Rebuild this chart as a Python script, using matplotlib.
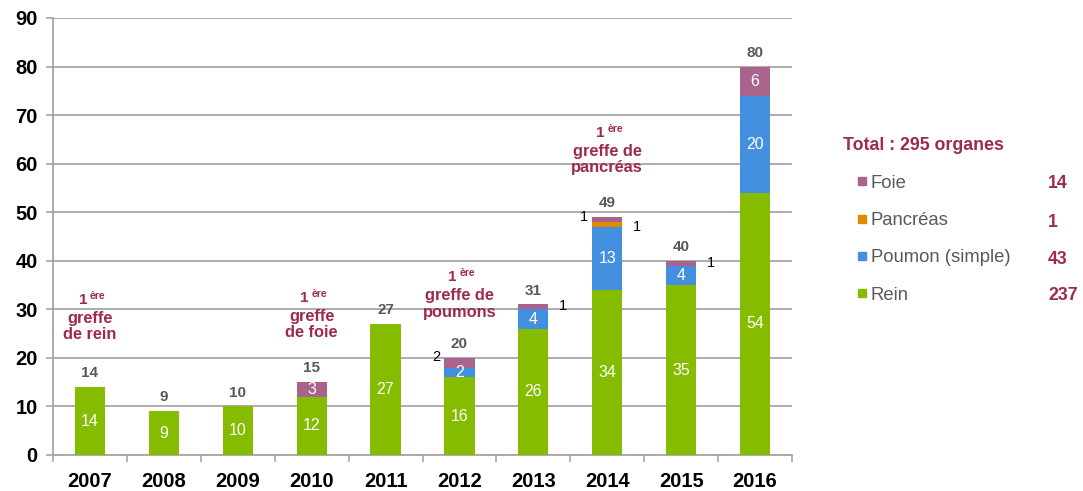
import matplotlib
matplotlib.use("Agg")
import matplotlib.pyplot as plt
import matplotlib.patches as mpatches
import numpy as np

plt.rcParams['font.family'] = ['Liberation Sans', 'DejaVu Sans']

years = ["2007", "2008", "2009", "2010", "2011", "2012", "2013", "2014", "2015", "2016"]
rein = [14, 9, 10, 12, 27, 16, 26, 34, 35, 54]
poumon = [0, 0, 0, 0, 0, 2, 4, 13, 4, 20]
pancreas = [0, 0, 0, 0, 0, 0, 0, 1, 0, 0]
foie = [0, 0, 0, 3, 0, 2, 1, 1, 1, 6]
totals = [14, 9, 10, 15, 27, 20, 31, 49, 40, 80]

legend_names = ["Foie", "Pancréas", "Poumon (simple)", "Rein"]
legend_values = ["14", "1", "43", "237"]
total_title = "Total : 295 organes"

# annotations: (year index, top y, body text)
firsts = [(0, 31.9, "greffe\nde rein"), (3, 32.3, "greffe\nde foie"),
          (5, 36.6, "greffe de\npoumons"), (7, 66.3, "greffe de\npancréas")]

c_rein = "#86BC00"
c_poumon = "#4490E0"
c_panc = "#E08A00"
c_foie = "#A8648C"
c_red = "#9E2A4E"
c_gray = "#595959"
c_grid = "#A6A6A6"

fig = plt.figure(figsize=(10.83, 4.91), dpi=100)
ax = fig.add_axes([53/1083, 36/491, (792-53)/1083, (455-18)/491])

x = np.arange(len(years))
w = 0.41
r = np.array(rein); p = np.array(poumon); pa = np.array(pancreas); f = np.array(foie)
ax.bar(x, r, w, color=c_rein, zorder=3)
ax.bar(x, p, w, bottom=r, color=c_poumon, zorder=3)
ax.bar(x, pa, w, bottom=r + p, color=c_panc, zorder=3)
ax.bar(x, f, w, bottom=r + p + pa, color=c_foie, zorder=3)

ax.set_xlim(-0.5, len(years) - 0.5)
ax.set_ylim(0, 90)
ax.set_yticks(range(0, 91, 10))
ax.set_yticklabels([str(v) for v in range(0, 91, 10)], fontsize=14.5, fontweight='bold')
ax.set_xticks(x)
ax.set_xticklabels(years, fontsize=14.5, fontweight='bold')
ax.set_xticks(np.arange(-0.5, len(years), 1), minor=True)
ax.tick_params(axis='x', which='major', length=0, pad=12)
ax.tick_params(axis='x', which='minor', length=5, color=c_grid, width=1.2, direction='out')
ax.tick_params(axis='y', length=5, color=c_grid, width=1.2, direction='out', pad=6)
ax.grid(axis='y', color=c_grid, linewidth=1.3, zorder=0)
for s in ['top', 'right']:
    ax.spines[s].set_visible(False)
for s in ['left', 'bottom']:
    ax.spines[s].set_color(c_grid)
    ax.spines[s].set_linewidth(1.3)

# inside labels
for i in range(len(years)):
    ax.text(x[i], r[i] / 2, str(r[i]), ha='center', va='center',
            color='white', fontsize=11.5, zorder=4)
    if p[i] >= 2:
        ax.text(x[i], r[i] + p[i] / 2, str(p[i]), ha='center', va='center', color='white', fontsize=11.5, zorder=4)
    if f[i] >= 3:
        ax.text(x[i], r[i] + p[i] + pa[i] + f[i] / 2, str(f[i]), ha='center', va='center',
                color='white', fontsize=11.5, zorder=4)
    ax.annotate(str(totals[i]), (x[i], totals[i]), xytext=(0, 10), textcoords='offset points',
                ha='center', va='center', color=c_gray, fontsize=11, fontweight='bold')

# outside small labels
def side(i, yv, txt, left):
    dx = -w / 2 - 0.05 if left else w / 2 + 0.2
    ax.text(x[i] + dx, yv, txt, ha='right' if left else 'center', va='center', fontsize=10.5, color='black')

side(5, r[5] + p[5] + f[5] / 2 + 1.2, str(f[5]), True)
side(6, r[6] + p[6] + f[6] / 2 + 0.2, str(f[6]), False)
side(7, r[7] + p[7] + pa[7] + f[7] / 2 + 0.6, str(f[7]), True)
side(7, r[7] + p[7] + pa[7] / 2 - 0.6, str(pa[7]), False)
side(8, r[8] + p[8] + f[8] / 2, str(f[8]), False)

# first-transplant annotations
for i, ytop, body in firsts:
    ax.annotate("1", (x[i], ytop), xytext=(-5, 0), textcoords='offset points', ha='center', va='center',
                color=c_red, fontsize=11, fontweight='bold')
    ax.annotate("ère", (x[i], ytop), xytext=(0, 3), textcoords='offset points', ha='left', va='center',
                color=c_red, fontsize=7.5, fontweight='bold')
    ax.annotate(body, (x[i], ytop), xytext=(0, -8), textcoords='offset points', ha='center', va='top',
                color=c_red, fontsize=11.8, fontweight='bold', linespacing=1.1)

# legend
fig.text(843/1083, 1 - 145/491, total_title, ha='left', va='center', color=c_red, fontsize=12.8, fontweight='bold')
cols = [c_foie, c_panc, c_poumon, c_rein]
ys = [183, 221, 258, 295]
for name, val, col, yy in zip(legend_names, legend_values, cols, ys):
    fig.patches.append(mpatches.Rectangle((858/1083, 1 - (yy + 2)/491), 8/1083, 8/491,
                                          transform=fig.transFigure, color=col, figure=fig))
    fig.text(871/1083, 1 - yy/491, name, ha='left', va='center', color=c_gray, fontsize=13.3)
    fig.text(1048/1083, 1 - (yy + 1)/491, val, ha='left', va='center', color=c_red, fontsize=12.8, fontweight='bold')

fig.savefig("out.png", dpi=100)
